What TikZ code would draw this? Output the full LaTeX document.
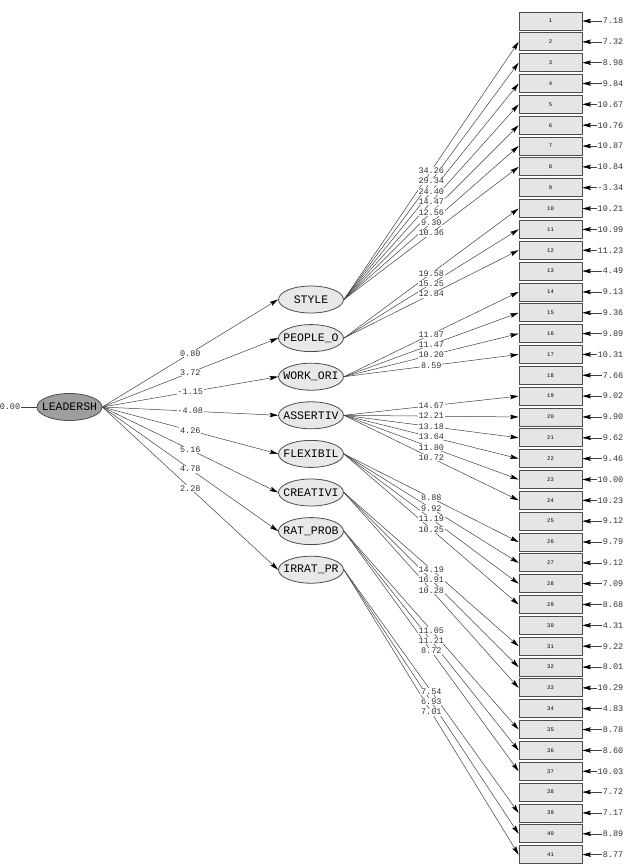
\documentclass[tikz,border=0pt]{standalone}
\usepackage{fontspec}
\setmonofont{Liberation Mono}
\usetikzlibrary{shapes.geometric,arrows.meta}

\begin{document}
\begin{tikzpicture}[x=1pt,y=-1pt,>={Stealth[length=8.5pt,width=4.5pt,inset=1.5pt,black]},
  obs/.style={draw=black!70,fill=black!10,line width=0.8pt,minimum width=63pt,minimum height=18pt,inner sep=0pt,font=\ttfamily\fontsize{5.5}{6}\selectfont},
  lat/.style={ellipse,draw=black!70,fill=black!9,line width=0.8pt,minimum width=65pt,minimum height=27pt,inner sep=0pt,font=\ttfamily\fontsize{11.5}{12}\selectfont},
  val/.style={font=\ttfamily\fontsize{8.5}{9}\selectfont,inner sep=0.6pt,text=black!80},
  lab/.style={val,fill=white},
  link/.style={draw=black!75,line width=0.5pt}]
  \useasboundingbox (0,0) rectangle (627,865);
  % indicators and their error variances
  \foreach \e [count=\i] in {7.18,7.32,8.98,9.84,10.67,10.76,10.87,10.84,-3.34,10.21,
      10.99,11.23,4.49,9.13,9.36,9.89,10.31,7.66,9.02,9.90,9.62,9.46,10.00,10.23,
      9.12,9.79,9.12,7.09,8.68,4.31,9.22,8.01,10.29,4.83,8.78,8.60,10.03,7.72,7.17,8.89,8.77}{
    \node[obs] (b\i) at (550.5,{21+(\i-1)*20.84}) {\i};
    \node[val,anchor=east] (e\i) at (624,{21+(\i-1)*20.84}) {\e};
    \draw[link,->] (e\i) -- (b\i);
  }
  % latent variables
  \foreach \t [count=\i] in {STYLE,PEOPLE\_O,WORK\_ORI,ASSERTIV,FLEXIBIL,CREATIVI,RAT\_PROB,IRRAT\_PR}
    \node[lat] (l\i) at (311,{299.5+(\i-1)*38.6}) {\makebox[0pt]{\t}};
  \node[lat,fill=black!38] (lead) at (69.5,407) {\makebox[0pt]{LEADERSH}};
  \node[val,anchor=east] (v0) at (21,407) {0.00};
  \draw[link] (v0) -- (lead);
  % second order paths
  \foreach \i in {1,...,8}
    \draw[link,->] (lead.east) -- (l\i.west);
  % first order paths
  \foreach \l/\b in {1/2,1/3,1/4,1/5,1/6,1/7,1/8,2/10,2/11,2/12,3/14,3/15,3/16,3/17,
      4/19,4/20,4/21,4/22,4/23,4/24,5/26,5/27,5/28,5/29,6/31,6/32,6/33,7/35,7/36,7/37,8/39,8/40,8/41}
    \draw[link,->] (l\l.east) -- (b\b.west);
  % t-values on the paths
  \foreach \v [count=\i] in {0.80,3.72,-1.15,-4.08,4.26,5.16,4.78,2.28}
    \path (lead.east) -- (l\i.west) node[lab,midway] {\v};
  \foreach \l/\b/\v in {1/2/34.26,1/3/29.34,1/4/24.40,1/5/14.47,1/6/12.56,1/7/9.30,1/8/10.36,
      2/10/19.58,2/11/15.25,2/12/12.84,
      3/14/11.87,3/15/11.47,3/16/10.20,3/17/8.59,
      4/19/14.67,4/20/12.21,4/21/13.18,4/22/13.64,4/23/11.80,4/24/10.72,
      5/26/8.88,5/27/9.92,5/28/11.19,5/29/10.25,
      6/31/14.19,6/32/16.91,6/33/10.28,
      7/35/11.05,7/36/11.21,7/37/8.72,
      8/39/7.54,8/40/6.93,8/41/7.01}
    \path (l\l.east) -- (b\b.west) node[lab,midway] {\v};
\end{tikzpicture}
\end{document}
